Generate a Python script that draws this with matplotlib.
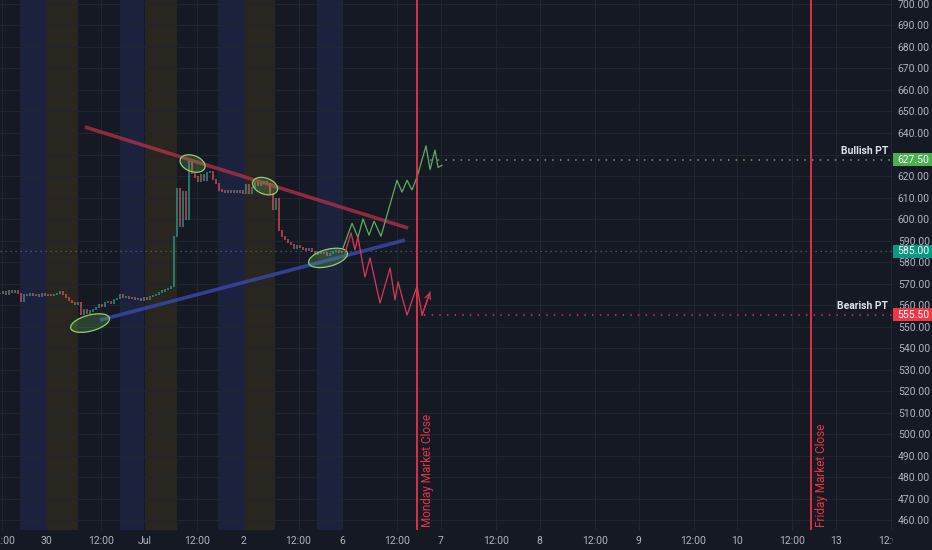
import numpy as np
import matplotlib.pyplot as plt
from matplotlib.patches import Rectangle, Polygon
from matplotlib.transforms import blended_transform_factory

plt.rcParams['font.family'] = ['Roboto', 'DejaVu Sans']

BG = '#151924'
GRID = '#21252f'
AXTXT = '#b2b5be'
UP = '#26a69a'
DOWN = '#ef5350'

# x axis is in trading-day units, 0 = Jun 30
day_pos = [0, 1, 2, 3, 4, 5, 6, 7, 8]
day_labels = ['30', 'Jul', '2', '6', '7', '8', '9', '10', '13']
noon_pos = [-0.443, 0.557, 1.530, 2.557, 3.557, 4.557, 5.557, 6.557, 7.557, 8.557]
price_ticks = list(range(460, 701, 10))

# extended-hours shading (start, end) in day units
post_bands = [(-0.26, 0.0), (0.75, 0.99), (1.74, 2.0), (2.74, 3.0)]
pre_bands = [(0.0, 0.32), (1.0, 1.33), (2.0, 2.32)]

# closes, one bar every ~0.0304 day starting at the left edge
bar_start = -0.466
bar_step = 0.0304
closes = [565.5, 566.2, 565.0, 566.5, 565.8, 566.8, 565.5, 561.5, 565.0, 564.3,
          565.2, 564.6, 565.0, 564.2, 565.1, 564.5, 565.0, 564.4, 564.8, 565.3,
          566.0, 564.8, 563.5, 562.0, 561.0, 560.5, 561.2, 555.5, 557.8, 556.0,
          557.2, 558.0, 558.8, 560.0, 559.5, 561.0, 561.6, 560.8, 562.5, 563.0,
          565.0, 563.5, 563.8, 562.9, 563.5, 562.5, 563.0, 562.2, 563.4, 562.8,
          564.0, 564.3, 565.0, 565.8, 566.5, 567.2, 567.8, 568.5, 592.0, 614.0,
          596.5, 612.5, 600.0, 626.5, 621.0, 619.5, 617.5, 620.5, 618.0, 621.5,
          622.0, 618.5, 616.5, 613.5, 613.0, 612.5, 613.2, 612.6, 613.0, 612.2,
          613.4, 612.0, 615.8, 612.0, 614.5, 617.0, 615.5, 616.8, 617.2, 616.5,
          612.0, 604.5, 609.5, 594.5, 592.0, 590.5, 589.0, 588.0, 586.5, 587.5,
          586.8, 586.0, 585.5, 586.2, 585.0, 583.5, 584.6, 583.8, 584.5, 583.2,
          583.8, 584.8, 585.3, 584.4, 585.0]

# trend lines
resist_x = [0.395, 3.666]
resist_y = [642.8, 595.8]
support_x = [0.547, 3.635]
support_y = [553.0, 590.2]

# projected paths
bull_x = [3.008, 3.099, 3.159, 3.210, 3.271, 3.322, 3.392, 3.554, 3.605, 3.656,
          3.706, 3.757, 3.848, 3.889, 3.939, 3.970, 4.010]
bull_y = [586.5, 598.0, 591.5, 600.0, 592.5, 599.0, 592.0, 618.0, 612.5, 618.0,
          613.5, 619.5, 634.0, 623.0, 632.0, 624.0, 625.0]
bear_x = [3.028, 3.089, 3.129, 3.159, 3.230, 3.281, 3.382, 3.484, 3.534, 3.565,
          3.656, 3.757, 3.808, 3.889]
bear_y = [584.2, 593.5, 585.6, 591.6, 573.0, 581.9, 560.9, 577.2, 562.3, 570.7,
          555.3, 568.8, 555.3, 566.0]

# touch points (day, price) and their shape in pixels (half-width, half-height, angle)
touch_x = [0.446, 1.484, 2.218, 2.856]
touch_y = [551.6, 625.8, 615.3, 581.9]
touch_shape = [(20, 8, 15), (13, 8, -20), (13, 8, -20), (20, 8.5, 15)]

bull_pt = 627.5
bear_pt = 555.5
last_price = 585.0
monday_close = 3.757
friday_close = 7.747

fig = plt.figure(figsize=(9.32, 5.5), dpi=100, facecolor=BG)
ax = fig.add_axes([0, 20 / 550, 893 / 932, 530 / 550])
ax.set_facecolor(BG)
ax.set_xlim(-0.466, 8.577)
ax.set_ylim(455.35, 701.86)
px_x = 893 / (8.577 + 0.466)
px_y = 530 / (701.86 - 455.35)

for a, b in post_bands:
    ax.axvspan(a, b, color='#1a223d', lw=0, zorder=0)
for a, b in pre_bands:
    ax.axvspan(a, b, color='#28261f', lw=0, zorder=0)

# the axis label boxes hide the tick label they sit on
ax.set_yticks(price_ticks)
ax.set_yticklabels(['' if v == 630 else f'{v:.2f}' for v in price_ticks])
ax.yaxis.tick_right()
ax.set_xticks(day_pos + noon_pos)
ax.set_xticklabels(day_labels + ['12:00'] * len(noon_pos))
ax.tick_params(axis='both', length=0, labelsize=7.5, labelcolor=AXTXT)
ax.tick_params(axis='y', pad=3.5)
ax.tick_params(axis='x', pad=4)
ax.grid(True, color=GRID, lw=0.8, zorder=0.5)
ax.set_axisbelow(True)
for s in ax.spines.values():
    s.set_visible(False)

# candles (open = previous close)
c = np.array(closes)
o = np.concatenate([[c[0]], c[:-1]])
x = bar_start + bar_step * np.arange(len(c))
lo = np.minimum(o, c) - 0.3
hi = np.maximum(o, c) + 0.3
cols = np.where(c >= o, UP, DOWN)
ax.vlines(x, lo, hi, colors=cols, lw=1.1, alpha=0.85, zorder=3)

ax.axhline(last_price, color='#4a6a66', lw=0.9, ls=(0, (1, 3)), zorder=2)

ax.plot(resist_x, resist_y, color='#b8304a', lw=2.6, alpha=0.75,
        solid_capstyle='butt', zorder=4)
ax.plot(support_x, support_y, color='#3848a8', lw=2.6, alpha=0.85,
        solid_capstyle='butt', zorder=4)

t = np.linspace(0, 2 * np.pi, 80)
for cx, cy, (ra, rb, ang) in zip(touch_x, touch_y, touch_shape):
    th = np.radians(ang)
    dx = ra * np.cos(t) * np.cos(th) - rb * np.sin(t) * np.sin(th)
    dy = ra * np.cos(t) * np.sin(th) + rb * np.sin(t) * np.cos(th)
    pts = np.column_stack([cx + dx / px_x, cy + dy / px_y])
    ax.add_patch(Polygon(pts, closed=True, facecolor=(0.45, 0.75, 0.35, 0.25),
                         edgecolor='#8fd16a', lw=0.9, zorder=5))

ax.plot(bull_x, bull_y, color='#5fae62', lw=0.9, zorder=6)
ax.plot(bear_x, bear_y, color='#d9385a', lw=0.9, zorder=6)
ax.annotate('', xy=(bear_x[-1], bear_y[-1]), xytext=(bear_x[-2], bear_y[-2]),
            arrowprops=dict(arrowstyle='->', color='#d9385a', lw=0.9,
                            shrinkA=0, shrinkB=0), zorder=6)

ax.plot([3.889, 8.577], [bull_pt, bull_pt], color='#5fae62', lw=1.1,
        ls=(0, (1, 4)), zorder=6)
ax.plot([3.828, 8.577], [bear_pt, bear_pt], color='#d9385a', lw=1.1,
        ls=(0, (1, 4)), zorder=6)
ax.text(8.527, bull_pt + 4.0, 'Bullish PT', color='#e0e3eb', fontsize=7.5,
        fontweight='bold', ha='right', va='center', zorder=7)
ax.text(8.527, bear_pt + 4.0, 'Bearish PT', color='#e0e3eb', fontsize=7.5,
        fontweight='bold', ha='right', va='center', zorder=7)

for xv, label in [(monday_close, 'Monday Market Close'),
                  (friday_close, 'Friday Market Close')]:
    ax.axvline(xv, color='#e8344a', lw=1.3, zorder=6)
    ax.text(xv + 0.103, 456.8, label, color='#e8344a', fontsize=8.5,
            rotation=90, ha='center', va='bottom', zorder=7)

# price labels on the axis
tr = blended_transform_factory(ax.transAxes, ax.transData)
for val, col in [(bull_pt, '#4caf50'), (last_price, '#089981'), (bear_pt, '#f23645')]:
    ax.add_patch(Rectangle((1.0, val - 3.0), 40 / 893, 6.0, transform=tr,
                           facecolor=col, edgecolor='none', clip_on=False, zorder=10))
    ax.text(1.0045, val, f'{val:.2f}', transform=tr, color='white', fontsize=7.5,
            ha='left', va='center', clip_on=False, zorder=11)

fig.add_artist(Rectangle((893 / 932, 0), 1, 20 / 550, transform=fig.transFigure,
                         facecolor=BG, edgecolor='none', zorder=20))

fig.savefig('out.png', dpi=100, facecolor=BG)
